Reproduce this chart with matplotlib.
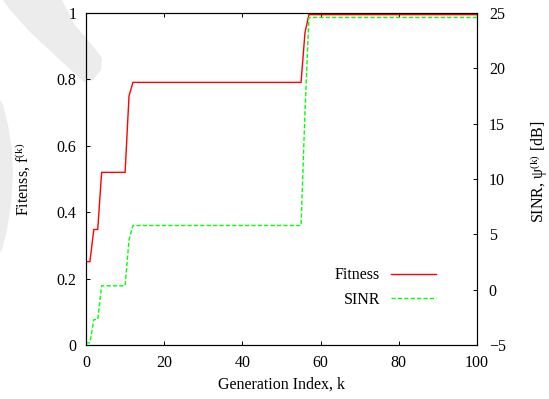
import matplotlib
matplotlib.use("Agg")
import matplotlib.pyplot as plt
from matplotlib.patches import Polygon

plt.rcParams['font.family'] = ['Liberation Serif', 'DejaVu Serif']
plt.rcParams['mathtext.fontset'] = 'custom'
plt.rcParams['mathtext.rm'] = 'Liberation Serif'
plt.rcParams['mathtext.it'] = 'Liberation Serif:italic'

# Data (vertices)
generation = [0, 1, 2, 3, 4, 10, 11, 12, 55, 56, 57, 100]
fitness = [0.251, 0.251, 0.348, 0.348, 0.52, 0.52, 0.75, 0.791, 0.791, 0.94, 0.995, 0.995]
sinr_db = [-4.8, -4.8, -2.7, -2.7, 0.35, 0.35, 4.5, 5.8, 5.8, 16.0, 24.6, 24.6]

xticks = [0, 20, 40, 60, 80, 100]
yticks_left = [0, 0.2, 0.4, 0.6, 0.8, 1]
ytick_left_labels = ["0", "0.2", "0.4", "0.6", "0.8", "1"]
yticks_right = [-5, 0, 5, 10, 15, 20, 25]

W, H = 549, 399
fs = 11.5
fig = plt.figure(figsize=(W / 100, H / 100), dpi=100)

# faint grey background smudges seen at the left edge of the picture
smudges = [
    [(3, 0), (62, 0), (75, 25), (92, 45), (102, 58), (101, 70), (93, 80), (84, 82), (60, 60), (30, 32), (10, 10)],
    [(0, 100), (3, 105), (8, 125), (12, 150), (13, 175), (11, 205), (7, 230), (2, 250), (0, 252)],
]
for pts in smudges:
    fig.patches.append(Polygon([(x / W, 1 - y / H) for x, y in pts], closed=True,
                               transform=fig.transFigure, facecolor='#ececec',
                               edgecolor='none', zorder=-10))

ax = fig.add_axes([86 / W, 1 - 345 / H, (477 - 86) / W, (345 - 13) / H])
ax.patch.set_alpha(0)
ax2 = ax.twinx()

l1, = ax.plot(generation, fitness, color='#ff0000', lw=1.0, label='Fitness')
l2, = ax2.plot(generation, sinr_db, color='#00ff00', lw=1.0, dashes=(3, 1.6), label='SINR')

ax.set_xlim(0, 100)
ax.set_ylim(0, 1)
ax2.set_ylim(-5, 25)
ax.set_xticks(xticks)
ax.set_yticks(yticks_left)
ax.set_yticklabels(ytick_left_labels)
ax2.set_yticks(yticks_right)

for a in (ax, ax2):
    for s in a.spines.values():
        s.set_linewidth(0.8)
ax.tick_params(axis='x', direction='in', length=3, width=0.7, labelsize=fs, top=True, pad=7.5)
ax.tick_params(axis='y', direction='in', length=3, width=0.7, labelsize=fs, right=False, pad=7)
ax2.tick_params(axis='y', direction='in', length=3, width=0.7, labelsize=fs, pad=8.5)

ax.set_xlabel('Generation Index, k', fontsize=fs, labelpad=4)
ax.set_ylabel('Fitenss, f$^{\\mathrm{(k)}}$', fontsize=fs, labelpad=17)
ax2.set_ylabel('SINR, \u03c8$^{\\mathrm{(k)}}$ [dB]', fontsize=fs)
ax2.yaxis.set_label_coords((528 - 86) / 391, (345 - 172) / 332)

leg = ax.legend(handles=[l1, l2], loc='lower right', bbox_to_anchor=((436 - 86) / 391, (345 - 308) / 332),
                frameon=False, markerfirst=False, fontsize=fs, handlelength=2.8,
                handletextpad=0.7, labelspacing=0.55, borderpad=0, borderaxespad=0)

fig.savefig('out.png', dpi=100)
